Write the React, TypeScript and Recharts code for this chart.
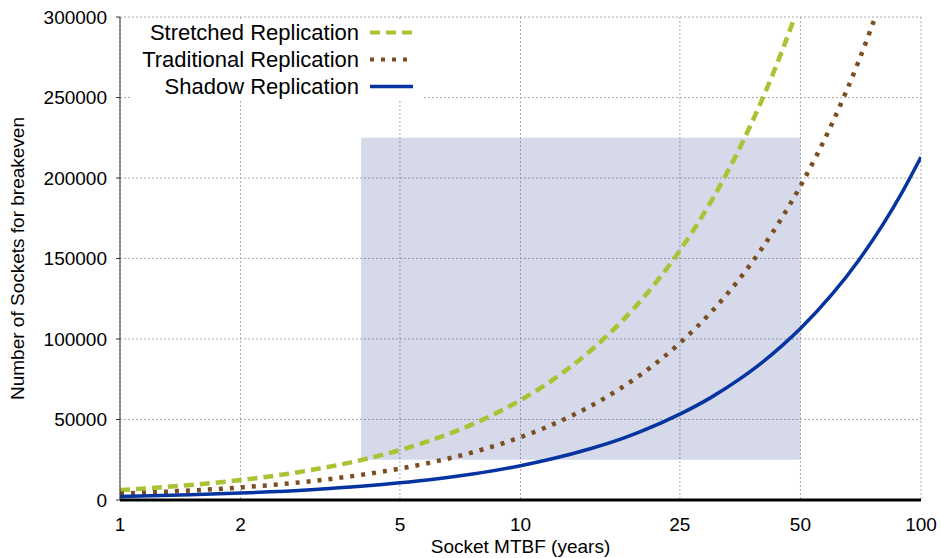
import {
  LineChart, Line, XAxis, YAxis, CartesianGrid, ReferenceArea, Legend,
} from 'recharts'

// socket MTBF in years (x, log scale)
const mtbf = [1, 1.5, 2, 3, 4, 5, 6, 7, 8, 10, 12, 15, 18, 20, 25, 30, 35, 40, 45, 50, 60, 70, 80, 90, 100]

// sockets needed for breakeven
const stretched = [6200, 9300, 12400, 18600, 24800, 31000, 37200, 43400, 49600, 62000, 74400, 93000, 111600, 124000, 155000, 186000, 217000, 248000, 279000, 310000, null, null, null, null, null]
const traditional = [3900, 5900, 7800, 11700, 15600, 19500, 23400, 27300, 31200, 39000, 46800, 58500, 70200, 78000, 97500, 117000, 136500, 156000, 175500, 195000, 234000, 273000, 312000, null, null]
const shadow = [2100, 3200, 4300, 6400, 8500, 10700, 12800, 14900, 17000, 21300, 25600, 32000, 38300, 42600, 53300, 63900, 74600, 85200, 95900, 106500, 127800, 149100, 170400, 191700, 213000]

const xTicks = [1, 2, 5, 10, 25, 50, 100]
const yTicks = [0, 50000, 100000, 150000, 200000, 250000, 300000]

// highlighted region: MTBF 4..50 years, 25k..225k sockets
const regionX = [4, 50]
const regionY = [25000, 225000]

const rows = mtbf.map((x, i) => ({
  x,
  stretched: stretched[i],
  traditional: traditional[i],
  shadow: shadow[i],
}))

const GREEN = '#a8c434'
const BROWN = '#7b4e22'
const BLUE = '#0534a0'
const FONT = '"Liberation Sans", Arial, Helvetica, sans-serif'

const legendItems = [
  { name: 'Stretched Replication', color: GREEN, dash: '10 6', width: 4 },
  { name: 'Traditional Replication', color: BROWN, dash: '4 7', width: 4 },
  { name: 'Shadow Replication', color: BLUE, dash: undefined, width: 3.5 },
]

function ChartLegend() {
  return (
    <div style={{ background: '#fff', width: 293, height: 81, fontFamily: FONT, fontSize: 22, color: '#000' }}>
      {legendItems.map((it) => (
        <div key={it.name} style={{ display: 'flex', alignItems: 'center', height: 27 }}>
          <div style={{ width: 229, textAlign: 'right', lineHeight: '27px', whiteSpace: 'nowrap' }}>{it.name}</div>
          <svg width={54} height={27} style={{ display: 'block' }}>
            <line x1={11} y1={13.5} x2={54} y2={13.5} stroke={it.color} strokeWidth={it.width} strokeDasharray={it.dash} />
          </svg>
        </div>
      ))}
    </div>
  )
}

function YLabel(props: { viewBox?: { x: number; y: number; width: number; height: number } }) {
  const vb = props.viewBox
  if (!vb) return null
  const cy = vb.y + vb.height / 2
  return (
    <text x={24} y={cy} transform={`rotate(-90, 24, ${cy})`} textAnchor="middle"
      style={{ fontFamily: FONT, fontSize: 19, fill: '#000' }}>
      Number of Sockets for breakeven
    </text>
  )
}

export default function App() {
  const tickStyle = { fontFamily: FONT, fontSize: 19, fill: '#000' }
  return (
    <div style={{ position: 'absolute', left: 0, top: 0 }}>
      <style>{'body{margin:0}'}</style>
      <LineChart width={941} height={558} data={rows} margin={{ top: 17, right: 20, bottom: 0, left: 0 }}>
        <CartesianGrid stroke="#aaa" strokeDasharray="2 2" strokeWidth={1} />
        <ReferenceArea
          x1={regionX[0]} x2={regionX[1]} y1={regionY[0]} y2={regionY[1]}
          fill="#2f3f8f" fillOpacity={0.2} stroke="none" ifOverflow="hidden"
        />
        <XAxis
          dataKey="x"
          type="number"
          scale="log"
          domain={[1, 100]}
          ticks={xTicks}
          allowDataOverflow
          height={58}
          tick={tickStyle}
          tickLine={false}
          tickMargin={12}
          axisLine={{ stroke: '#000', strokeWidth: 3 }}
          label={{ value: 'Socket MTBF (years)', position: 'insideBottom', offset: 5, style: { fontFamily: FONT, fontSize: 19, fill: '#000' } }}
        />
        <YAxis
          type="number"
          domain={[0, 300000]}
          ticks={yTicks}
          allowDataOverflow
          width={120}
          tick={tickStyle}
          tickSize={4}
          tickMargin={9}
          tickLine={{ stroke: '#333' }}
          axisLine={{ stroke: '#333', strokeWidth: 1 }}
          label={<YLabel />}
        />
        <Legend
          layout="vertical"
          align="center"
          verticalAlign="middle"
          content={<ChartLegend />}
          wrapperStyle={{ position: 'absolute', top: 19, left: 130, width: 293, height: 81 }}
        />
        <Line type="monotone" dataKey="stretched" stroke={GREEN} strokeWidth={4.5} strokeDasharray="10 6"
          dot={false} activeDot={false} isAnimationActive={false} connectNulls={false} />
        <Line type="monotone" dataKey="traditional" stroke={BROWN} strokeWidth={4.5} strokeDasharray="4 7"
          dot={false} activeDot={false} isAnimationActive={false} connectNulls={false} />
        <Line type="monotone" dataKey="shadow" stroke={BLUE} strokeWidth={3.5}
          dot={false} activeDot={false} isAnimationActive={false} connectNulls={false} />
      </LineChart>
    </div>
  )
}
